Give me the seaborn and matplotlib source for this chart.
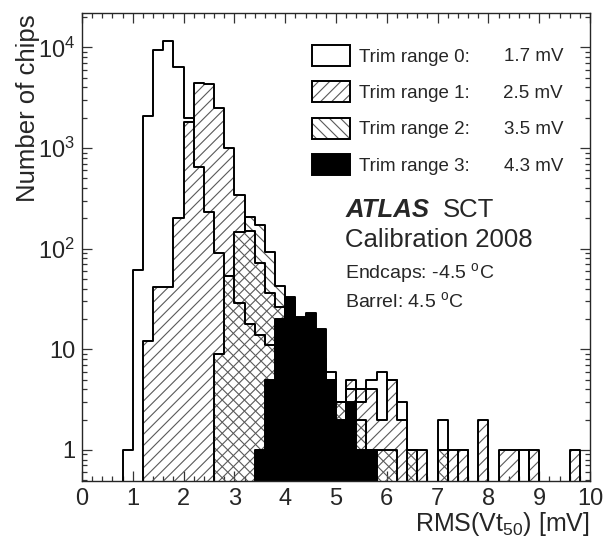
import numpy as np
import matplotlib
matplotlib.use("Agg")
import matplotlib.pyplot as plt
import matplotlib.patches as mpatches
from matplotlib.ticker import FixedLocator, FuncFormatter, MultipleLocator, LogLocator, NullFormatter
import seaborn as sns

# chip counts per 0.2 mV bin, bins given by their lower edge [mV]
trim0_lo = [0.8, 1.0, 1.2, 1.4, 1.6, 1.8, 2.0, 2.2, 2.4, 2.6, 2.8, 3.0, 3.2, 3.4, 3.6, 3.8,
            4.0, 4.2, 4.4, 4.6, 4.8, 5.0, 5.2, 5.4, 5.6, 5.8, 6.0, 6.2, 6.4, 7.0, 7.4, 8.6]
trim0_n = [1, 62, 2100, 9400, 11700, 6400, 2000, 650, 230, 90, 54, 29, 18, 14, 11, 10,
           9, 8, 6, 5, 6, 3, 4, 3, 5, 6, 5, 3, 1, 2, 1, 1]

trim1_lo = [1.2, 1.4, 1.6, 1.8, 2.0, 2.2, 2.4, 2.6, 2.8, 3.0, 3.2, 3.4, 3.6, 3.8, 4.0, 4.2,
            4.4, 4.6, 4.8, 5.0, 5.2, 5.4, 5.6, 5.8, 6.0, 6.2, 6.4, 6.6, 7.0, 7.2, 7.4, 7.8,
            8.2, 8.4, 8.8, 9.6]
trim1_n = [12, 42, 42, 200, 1800, 4400, 4300, 2500, 1000, 340, 150, 72, 36, 26, 15, 12,
           9, 7, 5, 3, 5, 4, 4, 2, 5, 2, 1, 1, 1, 1, 1, 2,
           1, 1, 1, 1]

trim2_lo = [2.6, 2.8, 3.0, 3.2, 3.4, 3.6, 3.8, 4.0, 4.2, 4.4, 4.6, 4.8, 5.0, 5.2, 5.4, 5.6,
            5.8, 6.0, 6.4, 7.0]
trim2_n = [9, 54, 147, 205, 170, 92, 43, 30, 20, 12, 8, 4, 3, 2, 2, 1,
           1, 1, 1, 1]

trim3_lo = [3.4, 3.6, 3.8, 4.0, 4.2, 4.4, 4.6, 4.8, 5.0, 5.2, 5.4, 5.6]
trim3_n = [1, 5, 20, 33, 21, 23, 16, 5, 2, 3, 1, 1]

trim_labels = ["Trim range 0:", "Trim range 1:", "Trim range 2:", "Trim range 3:"]
trim_rms = ["1.7 mV", "2.5 mV", "3.5 mV", "4.3 mV"]

bin_w = 0.2
hist_kw = dict(binwidth=bin_w, binrange=(0, 10), element="step")

sns.set_style("ticks")
plt.rcParams["font.family"] = ["Liberation Sans", "DejaVu Sans"]
plt.rcParams["mathtext.fontset"] = "custom"
plt.rcParams["mathtext.rm"] = "Liberation Sans"
plt.rcParams["mathtext.it"] = "Liberation Sans:italic"
plt.rcParams["mathtext.bf"] = "Liberation Sans:bold"
plt.rcParams["hatch.linewidth"] = 0.8

fig = plt.figure(figsize=(6.06, 5.47), dpi=100)
ax = fig.add_axes([82 / 606, 1 - 481 / 547, 508 / 606, 468 / 547])

hatch_col = "0.35"
lw = 1.4


def centers(lo):
    return np.array(lo) + bin_w / 2


# trim range 0: open histogram
sns.histplot(x=centers(trim0_lo), weights=trim0_n, fill=False, color="black",
             linewidth=lw, ax=ax, **hist_kw)

# trim ranges 1 and 2: transparent hatches (overlap gives the cross-hatch)
for lo, n, h in [(trim1_lo, trim1_n, "///"), (trim2_lo, trim2_n, "\\\\\\")]:
    sns.histplot(x=centers(lo), weights=n, fill=True, color=hatch_col, facecolor="none",
                 edgecolor=hatch_col, hatch=h, linewidth=0, ax=ax, **hist_kw)
    sns.histplot(x=centers(lo), weights=n, fill=False, color="black",
                 linewidth=lw, ax=ax, **hist_kw)

# trim range 3: solid black
sns.histplot(x=centers(trim3_lo), weights=trim3_n, fill=True, color="black",
             facecolor=(0, 0, 0, 1), edgecolor="black", alpha=1, linewidth=lw,
             ax=ax, **hist_kw)

ax.set_yscale("log")
ax.set_xlim(0, 10)
ax.set_ylim(0.49, 2.2e4)

# axes and ticks, ROOT style
ax.xaxis.set_major_locator(MultipleLocator(1))
ax.xaxis.set_minor_locator(MultipleLocator(0.2))
ax.xaxis.set_major_formatter(FuncFormatter(lambda v, p: f"{v:.0f}"))


def log_fmt(v, pos):
    e = int(round(np.log10(v)))
    if e == 0:
        return "1"
    if e == 1:
        return "10"
    return rf"$10^{{{e}}}$"


ax.yaxis.set_major_locator(FixedLocator([1, 10, 100, 1000, 10000]))
ax.yaxis.set_major_formatter(FuncFormatter(log_fmt))
ax.yaxis.set_minor_locator(LogLocator(base=10, subs=np.arange(2, 10)))
ax.yaxis.set_minor_formatter(NullFormatter())

ax.tick_params(which="both", direction="in", top=True, right=True, width=0.9, color="0.2")
ax.tick_params(which="major", length=7.2, labelsize=17, pad=5)
ax.tick_params(which="minor", length=3.6)
for s in ax.spines.values():
    s.set_linewidth(1.0)
    s.set_color("0.15")

ax.set_xlabel(r"RMS(Vt$_{50}$) [mV]", fontsize=18, loc="right")
ax.xaxis.set_label_coords(1.0, -0.062)
ax.set_ylabel("Number of chips", fontsize=18.5, loc="top")
ax.yaxis.set_label_coords(-0.083, 0.996)

# legend
handles = [
    mpatches.Patch(facecolor="white", edgecolor="black", linewidth=lw),
    (mpatches.Patch(facecolor="white", edgecolor=hatch_col, hatch="///", linewidth=0),
     mpatches.Patch(facecolor="none", edgecolor="black", linewidth=lw)),
    (mpatches.Patch(facecolor="white", edgecolor=hatch_col, hatch="\\\\\\", linewidth=0),
     mpatches.Patch(facecolor="none", edgecolor="black", linewidth=lw)),
    mpatches.Patch(facecolor="black", edgecolor="black", linewidth=lw),
]
ax.legend(handles, trim_labels, loc="upper left", bbox_to_anchor=(0.4528, 0.9316),
          frameon=False, borderpad=0, borderaxespad=0, handlelength=2.03,
          handleheight=1.33, handletextpad=0.45, labelspacing=0.83, fontsize=13.5)
for y, txt in zip([0.906, 0.827, 0.75, 0.673], trim_rms):
    ax.text(0.947, y, txt, ha="right", va="center", fontsize=13.5, transform=ax.transAxes)

# ATLAS label block
t = ax.text(0.518, 0.564, "ATLAS", fontsize=18.5, fontweight="bold", fontstyle="italic",
            ha="left", va="baseline", transform=ax.transAxes)
ax.annotate("SCT", xy=(1, 0), xycoords=t, xytext=(10, 0), textcoords="offset points",
            fontsize=18.5, ha="left", va="bottom")
ax.text(0.518, 0.50, "Calibration 2008", fontsize=18.5, ha="left", va="baseline",
        transform=ax.transAxes)
ax.text(0.518, 0.434, r"Endcaps: -4.5 $^{\rm o}$C", fontsize=14, ha="left", va="baseline",
        transform=ax.transAxes)
ax.text(0.518, 0.372, r"Barrel: 4.5 $^{\rm o}$C", fontsize=14, ha="left", va="baseline",
        transform=ax.transAxes)

plt.savefig("out.png", dpi=100)
